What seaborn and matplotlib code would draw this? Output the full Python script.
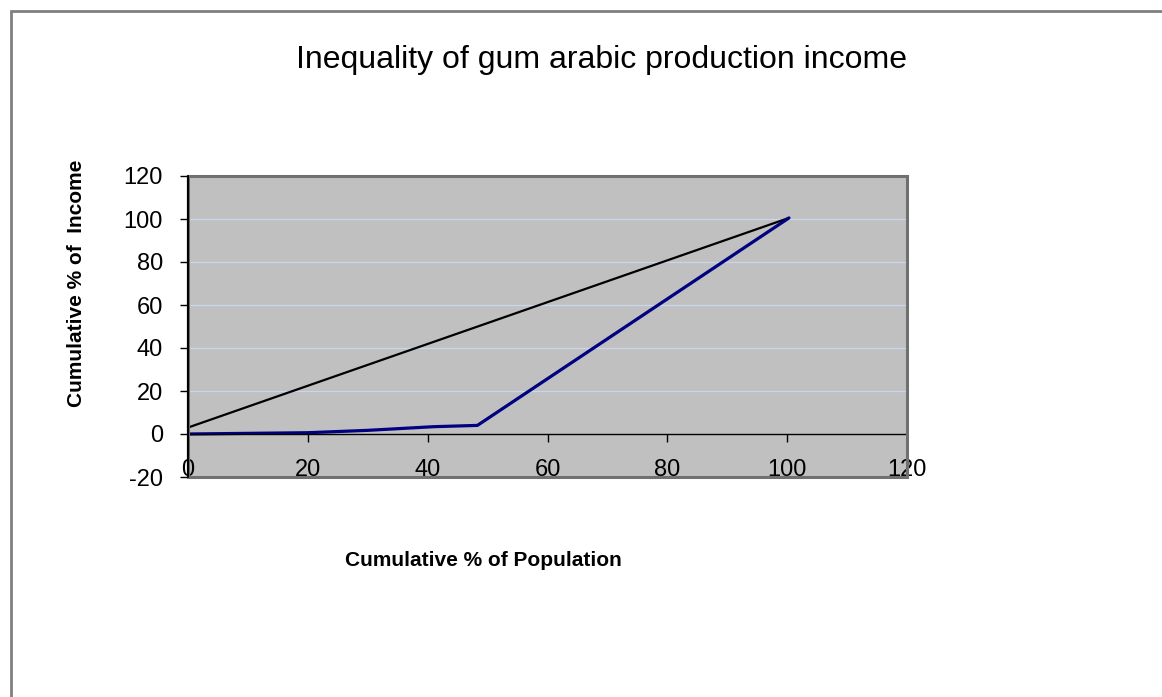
import matplotlib
matplotlib.use("Agg")
import matplotlib.pyplot as plt
from matplotlib.patches import Rectangle
import seaborn as sns
import pandas as pd

# Lorenz curve of gum arabic production income
population_pct = [0, 20, 30, 41, 48.3, 100.3]
income_pct = [0, 0.6, 1.7, 3.4, 4.0, 100.5]

# Line of equality
equality_x = [0, 100.3]
equality_y = [3, 100.5]

x_ticks = [0, 20, 40, 60, 80, 100, 120]
y_ticks = [-20, 0, 20, 40, 60, 80, 100, 120]

sns.set_style("white")
plt.rcParams["font.family"] = ["Liberation Sans", "DejaVu Sans"]
plt.rcParams["text.color"] = "black"
plt.rcParams["xtick.color"] = "black"
plt.rcParams["ytick.color"] = "black"
plt.rcParams["axes.labelcolor"] = "black"

W, H = 1162, 697
fig = plt.figure(figsize=(W / 100, H / 100), dpi=100)
ax = fig.add_axes([188 / W, 1 - 477 / H, (907 - 188) / W, (477 - 176) / H])
ax.set_facecolor("#C0C0C0")

lorenz = pd.DataFrame({"pop": population_pct, "inc": income_pct})
equal = pd.DataFrame({"pop": equality_x, "inc": equality_y})

sns.lineplot(data=equal, x="pop", y="inc", ax=ax, color="black", linewidth=1.6,
             zorder=3)
sns.lineplot(data=lorenz, x="pop", y="inc", ax=ax, color="#000080", linewidth=2.3,
             zorder=4)

# horizontal gridlines
for v in [20, 40, 60, 80, 100]:
    ax.axhline(v, color="#C8D6EE", linewidth=0.9, zorder=1)

# x axis crosses at zero
ax.spines["bottom"].set_position(("data", 0))
ax.spines["bottom"].set_color("black")
ax.spines["bottom"].set_linewidth(1.0)
ax.spines["left"].set_color("black")
ax.spines["left"].set_linewidth(1.5)
for s in ["top", "right"]:
    ax.spines[s].set_visible(False)
ax.spines["bottom"].set_zorder(5)

ax.set_xlim(0, 120)
ax.set_ylim(-20, 120)
ax.set_xticks(x_ticks)
ax.set_yticks(y_ticks)
ax.set_xticklabels([str(v) for v in x_ticks])
ax.set_yticklabels([str(v) for v in y_ticks])

# plot area frame
ax.add_patch(Rectangle((0, 0), 1, 1, transform=ax.transAxes, fill=False,
                       edgecolor="#707070", linewidth=2.2, zorder=6, clip_on=False))
ax.plot([0, 0], [0, 1], transform=ax.transAxes, color="black", linewidth=1.5,
        zorder=7, clip_on=False)

ax.tick_params(axis="x", direction="out", length=6, width=1, color="black",
               pad=12, bottom=True, labelsize=17, labelcolor="black")
ax.tick_params(axis="y", direction="out", length=6, width=1, color="black",
               pad=12, left=True, labelsize=17, labelcolor="black")

ax.set_xlabel("")
ax.set_ylabel("")

fig.text(602 / W, 1 - 60 / H, "Inequality of gum arabic production income",
         ha="center", va="center", fontsize=23)
fig.text(483 / W, 1 - 561 / H, "Cumulative % of Population",
         ha="center", va="center", fontsize=15, fontweight="bold")
fig.text(77 / W, 1 - 283 / H, "Cumulative % of  Income",
         ha="center", va="center", fontsize=15, fontweight="bold", rotation=90)

# outer chart border
fig.patches.append(Rectangle((11 / W, -0.1), 1.2, 1 - 11 / H + 0.1,
                             transform=fig.transFigure, fill=False,
                             edgecolor="#808080", linewidth=2))

fig.savefig("out.png", dpi=100, facecolor="white")
